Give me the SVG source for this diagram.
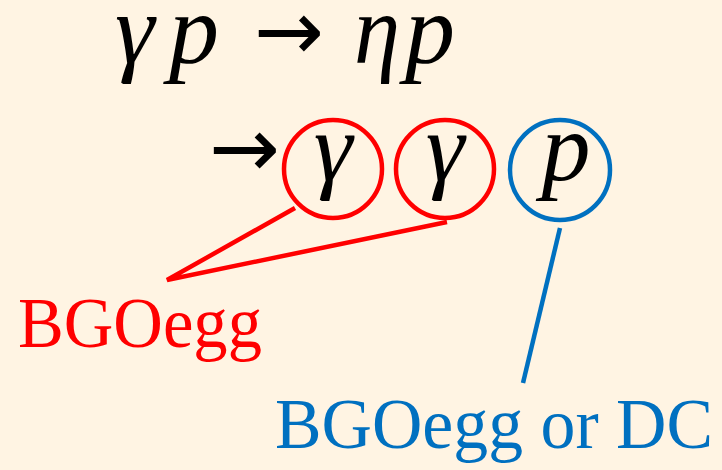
<svg xmlns="http://www.w3.org/2000/svg" width="722" height="470" viewBox="0 0 722 470">
<style>
.math{font-family:"Liberation Serif","DejaVu Serif",serif;font-style:italic;fill:#000}
.arr{font-family:"DejaVu Sans",sans-serif;fill:#000;font-size:84px}
.lbl{font-family:"Liberation Serif","DejaVu Serif",serif;font-size:72px}
.red{stroke:#FF0000;fill:none;stroke-width:4.5}
.blue{stroke:#0070C0;fill:none;stroke-width:4.5}
</style>
<rect width="722" height="470" fill="#FFF4E3"/>
<g id="reaction">
<text class="math" font-size="100" x="115" y="63">γ</text>
<text class="math" font-size="100" x="169" y="63">p</text>
<text class="arr" x="254" y="60" textLength="70" lengthAdjust="spacingAndGlyphs">→</text>
<text class="math" font-size="100" x="354" y="63" textLength="46" lengthAdjust="spacingAndGlyphs">η</text>
<text class="math" font-size="100" x="405" y="63">p</text>
<text class="arr" x="209" y="177" textLength="71" lengthAdjust="spacingAndGlyphs">→</text>
</g>
<g id="gamma1">
<circle class="red" cx="333" cy="169" r="49"/>
<text class="math" font-size="98" x="333" y="180" text-anchor="middle">γ</text>
</g>
<g id="gamma2">
<circle class="red" cx="445" cy="169" r="49"/>
<text class="math" font-size="98" x="445" y="180" text-anchor="middle">γ</text>
</g>
<g id="proton">
<circle class="blue" cx="560" cy="170" r="50"/>
<text class="math" font-size="98" x="566" y="180" text-anchor="middle">p</text>
</g>
<g id="connectors">
<polyline class="red" points="295,208 167,280 447,222"/>
<line class="blue" x1="560" y1="228" x2="523" y2="383"/>
</g>
<g id="bgoegg">
<text class="lbl" fill="#FF0000" x="18" y="347" textLength="244" lengthAdjust="spacingAndGlyphs">BGOegg</text>
</g>
<g id="bgoegg-dc">
<text class="lbl" fill="#0070C0" x="275" y="448" textLength="438" lengthAdjust="spacingAndGlyphs">BGOegg or DC</text>
</g>
</svg>
